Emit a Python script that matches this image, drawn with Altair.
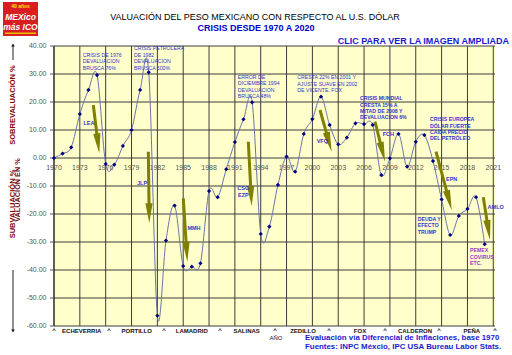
import math
import altair as alt
import pandas as pd

# ---------------- data ----------------
years = list(range(1970, 2021))
valuation = [0.0, 1.6, 3.8, 15.7, 24.3, 29.6, -2.1, -2.4, 4.3, 10.0,
             24.3, 30.6, -56.3, -29.5, -17.0, -38.6, -38.8, -37.6, -11.8, -14.0,
             -4.0, 5.7, 13.8, 19.9, -27.1, -24.5, -9.6, 0.5, -4.9, 8.6,
             13.9, 21.9, 11.8, 4.9, 7.3, 12.4, 12.1, 11.8, -6.1, -0.1,
             8.6, -3.1, 5.8, 8.2, -1.1, -14.8, -27.5, -20.7, -18.2, -14.0,
             -30.8]

grid_years = list(range(1970, 2022, 3))
y_ticks = list(range(-60, 41, 10))
y_tick_labels = ["%.2f" % v for v in y_ticks]

# multi-line notes (left aligned, y = top of first line)
note_text = ["CRISIS DE 1976\nDEVALUACION\nBRUSCA 76%",
             "CRISIS PETROLERA\nDE 1982\nDEVALUACION\nBRUSCA 500%",
             "ERROR DE\nDICIEMBRE 1994\nDEVALUACION\nBRUSCA  48%",
             "CRESTA 22% EN 2001 Y\nAJUSTE SUAVE EN 2002\nDE VICENTE. FOX",
             "CRISIS MUNDIAL\nCRESTA 15%  A\nMITAD DE 2008  Y\nDEVALUACION 6%",
             "CRISIS EUROPEA\nDÓLAR FUERTE\nCAÍDA PRECIO\nDEL PETRÓLEO",
             "DEUDA Y\nEFECTO\nTRUMP",
             "PEMEX\nCOVIRUS\nETC."]
note_x = [1973.33, 1979.29, 1991.33, 1998.25, 2005.53, 2013.65, 2012.23, 2018.3]
note_y = [37.57, 39.86, 29.71, 29.5, 22.1, 14.6, -21.1, -32.2]
note_weight = ["normal", "normal", "normal", "normal", "bold", "bold", "bold", "bold"]
note_color = ["#3333CC"] * 7 + ["#9933CC"]

# president labels next to arrows
tag_text = ["LEA", "JLP", "MMH", "CSG\nEZP", "VFQ", "FCH", "EPN", "AMLO"]
tag_x = [1974.06, 1980.22, 1986.25, 1991.98, 2001.15, 2008.81, 2016.17, 2021.28]
tag_y = [12.4, -8.8, -25.1, -10.7, 6.0, 8.7, -7.5, -17.4]

# arrows: start (x0,y0) -> tip (x1,y1)
arrow_x0 = [1974.56, 1980.95, 1985.01, 1992.56, 2000.88, 2007.27, 2014.35, 2019.84]
arrow_y0 = [18.93, 2.25, -14.39, 5.82, 17.14, 12.96, 2.25, -14.04]
arrow_x1 = [1975.26, 1981.06, 1985.48, 1992.95, 2002.24, 2008.43, 2016.17, 2020.62]
arrow_y1 = [1.68, -23.32, -37.04, -17.14, 2.25, -1.32, -18.57, -29.29]

# sexenios along the bottom
pres_names = ["ECHEVERRIA", "PORTILLO", "LAMADRID", "SALINAS", "ZEDILLO", "FOX", "CALDERON", "PEÑA"]
pres_x = [1973.22, 1979.6, 1985.99, 1992.37, 1998.91, 2005.53, 2011.91, 2018.5]
caret_x = [1970.0, 1976.39, 1982.77, 1989.27, 1995.66, 2001.93, 2008.43, 2014.7, 2021.2]

# ---------------- layout ----------------
W, H = 441, 280
X0, X1 = 1970, 2021.2
Y0, Y1 = -60, 40
PXX = W / (X1 - X0)
PXY = H / (Y1 - Y0)
FONT = "Liberation Sans"
OLIVE = "#7f7f00"
GRID = "#3c3c3c"

xs = alt.Scale(domain=[X0, X1], nice=False, zero=False)
ys = alt.Scale(domain=[Y0, Y1], nice=False, zero=False)


def X(field):
    return alt.X(field, scale=xs, axis=None)


def Y(field):
    return alt.Y(field, scale=ys, axis=None)


# grid
vgrid = alt.Chart(pd.DataFrame({"year": grid_years})).mark_rule(
    color=GRID, strokeWidth=1).encode(x=X("year:Q"))
hdf = pd.DataFrame({"val": y_ticks, "t": y_tick_labels})
hgrid = alt.Chart(hdf).mark_rule(color=GRID, strokeWidth=1).encode(y=Y("val:Q"))
yticks = alt.Chart(hdf).mark_rule(color="#555555", strokeWidth=1).encode(
    y=Y("val:Q"), x=alt.value(-4), x2=alt.value(0))
ylabels = alt.Chart(hdf).mark_text(
    align="right", baseline="middle", fontSize=7, color="#555555", font=FONT
).encode(y=Y("val:Q"), x=alt.value(-7.5), text="t:N")
ydomain = alt.Chart(pd.DataFrame({"k": [0]})).mark_rule(
    color="#222222", strokeWidth=1).encode(x=alt.value(0), y=alt.value(0), y2=alt.value(H))

df = pd.DataFrame({"year": years, "val": valuation})

line = alt.Chart(df).mark_line(
    interpolate="cardinal", tension=0, color="#6b74a8", strokeWidth=1
).encode(x=X("year:Q"), y=Y("val:Q"))

pts = alt.Chart(df).mark_point(
    shape="diamond", filled=True, size=18, color="#000080", opacity=1
).encode(x=X("year:Q"), y=Y("val:Q"))

# year tick labels along the zero line
xlab = alt.Chart(pd.DataFrame({"year": grid_years, "val": [0] * len(grid_years),
                               "t": [str(v) for v in grid_years]})).mark_text(
    fontSize=7, color="#555555", font=FONT, dy=10
).encode(x=X("year:Q"), y=Y("val:Q"), text="t:N")

# notes
ndf = pd.DataFrame({"year": note_x, "val": note_y, "t": note_text,
                    "w": note_weight, "c": note_color})


def note_layer(weight):
    return alt.Chart(ndf[ndf["w"] == weight]).mark_text(
        align="left", baseline="top", fontSize=5.2, font=FONT, lineBreak="\n",
        lineHeight=6.4, fontWeight=weight
    ).encode(x=X("year:Q"), y=Y("val:Q"), text="t:N",
             color=alt.Color("c:N", scale=None))


notes_norm = note_layer("normal")
notes_bold = note_layer("bold")

tags = alt.Chart(pd.DataFrame({"year": tag_x, "val": tag_y, "t": tag_text})).mark_text(
    align="center", baseline="middle", fontSize=5.5, font=FONT, fontWeight="bold",
    color="#3333CC", lineBreak="\n", lineHeight=6.6
).encode(x=X("year:Q"), y=Y("val:Q"), text="t:N")

# arrows
rows = []
for a, b, c, d in zip(arrow_x0, arrow_y0, arrow_x1, arrow_y1):
    dx = (c - a) * PXX
    dy = (b - d) * PXY
    L = math.hypot(dx, dy)
    ux, uy = dx / L, dy / L
    back = 12.0
    rows.append({"x0": a, "y0": b, "x1": c, "y1": d,
                 "sx": c - ux * back / PXX, "sy": d + uy * back / PXY,
                 "ang": (-math.degrees(math.atan2(dx, dy))) % 360})
adf = pd.DataFrame(rows)
shaft = alt.Chart(adf).mark_rule(color=OLIVE, strokeWidth=3).encode(
    x=X("x0:Q"), y=Y("y0:Q"), x2="sx:Q", y2="sy:Q")
head = alt.Chart(adf).mark_point(
    shape="M-0.45,-2.5L0.45,-2.5L0,0Z", filled=True, size=256, color=OLIVE, opacity=1,
    strokeWidth=0
).encode(x=X("x1:Q"), y=Y("y1:Q"), angle=alt.Angle("ang:Q", scale=None))

# bottom row
pres = alt.Chart(pd.DataFrame({"year": pres_x, "t": pres_names})).mark_text(
    fontSize=6, fontWeight="bold", font=FONT, color="#111111", baseline="middle"
).encode(x=X("year:Q"), y=alt.value(284.5), text="t:N")
carets = alt.Chart(pd.DataFrame({"year": caret_x, "t": ["^"] * len(caret_x)})).mark_text(
    fontSize=6, fontWeight="bold", font=FONT, color="#111111", baseline="middle"
).encode(x=X("year:Q"), y=alt.value(284), text="t:N")


def txt(text, x, y, **kw):
    props = dict(font=FONT, baseline="middle")
    props.update(kw)
    return alt.Chart(pd.DataFrame({"t": [text]})).mark_text(**props).encode(
        x=alt.value(x), y=alt.value(y), text="t:N")


deco = [
    txt("VALUACIÓN DEL PESO MEXICANO CON RESPECTO AL U.S. DÓLAR", 201, -29,
        fontSize=9, color="#000000"),
    txt("CRISIS DESDE 1970 A 2020", 202, -18.5, fontSize=9, fontWeight="bold",
        color="#0000CC"),
    txt("CLIC PARA VER LA IMAGEN AMPLIADA", 455, -5.3, align="right", fontSize=9,
        fontWeight="bold", color="#1a1acc"),
    txt("AÑO", 222, 292, fontSize=6, color="#111111"),
    txt("Evaluación vía Diferencial de Inflaciones, base 1970", 251, 292, align="left",
        fontSize=7.9, fontWeight="bold", color="#1a1acc"),
    txt("Fuentes: INPC Méxcio,  IPC USA Bureau Labor Stats.", 251, 300.8, align="left",
        fontSize=7.9, fontWeight="bold", color="#1a1acc"),
    txt("SOBREVALUACIÓN %", -41, 59, angle=270, fontSize=7.5, fontWeight="bold",
        color="#800000"),
    txt("SUBVALUACIÓN %", -41, 158, angle=270, fontSize=7.5, fontWeight="bold",
        color="#800000"),
    txt("VALUACIÓN EN %", -36, 144, angle=270, fontSize=7.3, fontWeight="bold",
        color="#6b1010"),
]

one = pd.DataFrame({"k": [0]})
ax_arrows = [
    alt.Chart(one).mark_rule(color="#222222", strokeWidth=1).encode(
        x=alt.value(-41), y=alt.value(14), y2=alt.value(-1)),
    alt.Chart(one).mark_point(shape="triangle-up", filled=True, size=14,
                              color="#222222", opacity=1).encode(
        x=alt.value(-41), y=alt.value(-1)),
    alt.Chart(one).mark_rule(color="#222222", strokeWidth=1).encode(
        x=alt.value(-41), y=alt.value(224), y2=alt.value(284)),
    alt.Chart(one).mark_point(shape="triangle-down", filled=True, size=14,
                              color="#222222", opacity=1).encode(
        x=alt.value(-41), y=alt.value(285)),
]

logo = [
    alt.Chart(one).mark_rect(color="#d81e1e").encode(
        x=alt.value(-51), x2=alt.value(-16), y=alt.value(-44), y2=alt.value(-10)),
    alt.Chart(one).mark_rect(color="#e6c300").encode(
        x=alt.value(-49), x2=alt.value(-18), y=alt.value(-13.5), y2=alt.value(-12)),
    txt("40 años", -33.5, -40, fontSize=5, fontWeight="bold", color="#ffe400"),
    txt("MEXico", -33.5, -29, fontSize=8.5, fontWeight="bold", fontStyle="italic",
        color="#ffffff"),
    txt("más ICO", -33.5, -19.5, fontSize=8.5, fontWeight="bold", fontStyle="italic",
        color="#ffffff"),
]

chart = alt.layer(
    vgrid, hgrid, ydomain, yticks, ylabels, xlab,
    line, shaft, head, pts, notes_norm, notes_bold, tags, pres, carets,
    *deco, *ax_arrows, *logo
).properties(
    width=W, height=H,
    autosize=alt.AutoSizeParams(type="none"),
    padding={"left": 54, "top": 46, "right": 17, "bottom": 29},
    background="#ffffff",
).configure_view(fill="#FFFFCC", stroke=None)

chart.save("out.html", embed_options={"renderer": "svg", "actions": False})
